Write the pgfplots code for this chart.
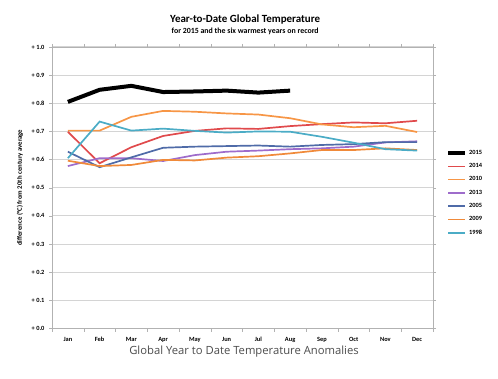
\documentclass[border=0pt]{standalone}
\usepackage{fontspec}
\setmainfont{Carlito}
\newfontfamily\opensans{Open Sans}
\usepackage{pgfplots}
\pgfplotsset{compat=1.18}
\definecolor{cA}{HTML}{E04A4C}
\definecolor{cB}{HTML}{F79646}
\definecolor{cC}{HTML}{9E6CCB}
\definecolor{cD}{HTML}{4F6BA8}
\definecolor{cE}{HTML}{F08A3A}
\definecolor{cF}{HTML}{4BACC6}
\definecolor{gridc}{HTML}{D4D4D4}
\begin{document}
\begin{tikzpicture}
\path[use as bounding box] (0,0) rectangle (498bp,379bp);
\begin{axis}[
  at={(52bp,50.5bp)}, anchor=south west,
  scale only axis, width=381bp, height=281.5bp,
  xmin=-0.5, xmax=11.5, ymin=0, ymax=1,
  xtick={0,...,11},
  xticklabels={Jan,Feb,Mar,Apr,May,Jun,Jul,Aug,Sep,Oct,Nov,Dec},
  minor xtick={-0.5,0.5,...,11.5},
  major x tick style={draw=none},
  minor x tick style={gray!60},
  ytick={0,0.1,...,1.0},
  yticklabels={+ 0.0,+ 0.1,+ 0.2,+ 0.3,+ 0.4,+ 0.5,+ 0.6,+ 0.7,+ 0.8,+ 0.9,+ 1.0},
  tick align=outside,
  major tick length=3bp, minor tick length=3bp,
  y tick style={gray!60},
  ymajorgrids, grid style={gridc, line width=1bp},
  axis line style={gray!60, line width=0.8bp},
  tick label style={font=\bfseries\fontsize{6.4}{7}\selectfont},
  xticklabel style={yshift=-2bp},
  yticklabel style={xshift=-1bp},
  ylabel={difference (°C) from 20th century average},
  ylabel style={at={(axis description cs:-0.084,0.5)}, anchor=center, font=\bfseries\fontsize{6.8}{8}\selectfont},
  xlabel={Global Year to Date Temperature Anomalies},
  xlabel style={at={(axis description cs:0.504,-0.083)}, anchor=center, font=\opensans\fontsize{11.3}{13}\selectfont, text=black!70},
  legend style={at={(1.026,0.648)}, anchor=north west, draw=none, fill=none,
    font=\bfseries\fontsize{6.4}{7}\selectfont, row sep=3.6bp,
    /tikz/every odd column/.append style={column sep=0pt}},
  legend cell align=left,
  legend image code/.code={\draw[#1] (0bp,0bp) -- (17bp,0bp);},
  clip=false,
]
\addplot[black, line width=4bp] coordinates {(0,0.805) (1,0.848) (2,0.862) (3,0.840) (4,0.842) (5,0.845) (6,0.838) (7,0.845)};
\addlegendentry{2015}
\addplot[cA, line width=1.7bp] coordinates {(0,0.699) (1,0.587) (2,0.644) (3,0.684) (4,0.702) (5,0.711) (6,0.709) (7,0.719) (8,0.726) (9,0.732) (10,0.729) (11,0.738)};
\addlegendentry{2014}
\addplot[cB, line width=1.7bp] coordinates {(0,0.703) (1,0.703) (2,0.752) (3,0.773) (4,0.770) (5,0.764) (6,0.760) (7,0.747) (8,0.725) (9,0.715) (10,0.720) (11,0.698)};
\addlegendentry{2010}
\addplot[cC, line width=1.7bp] coordinates {(0,0.577) (1,0.605) (2,0.605) (3,0.595) (4,0.616) (5,0.628) (6,0.632) (7,0.637) (8,0.640) (9,0.646) (10,0.661) (11,0.665)};
\addlegendentry{2013}
\addplot[cD, line width=1.7bp] coordinates {(0,0.628) (1,0.573) (2,0.608) (3,0.642) (4,0.646) (5,0.648) (6,0.650) (7,0.646) (8,0.652) (9,0.655) (10,0.662) (11,0.662)};
\addlegendentry{2005}
\addplot[cE, line width=1.7bp] coordinates {(0,0.596) (1,0.577) (2,0.581) (3,0.599) (4,0.597) (5,0.607) (6,0.612) (7,0.622) (8,0.634) (9,0.634) (10,0.640) (11,0.634)};
\addlegendentry{2009}
\addplot[cF, line width=1.7bp] coordinates {(0,0.605) (1,0.735) (2,0.703) (3,0.710) (4,0.702) (5,0.696) (6,0.700) (7,0.699) (8,0.681) (9,0.660) (10,0.637) (11,0.632)};
\addlegendentry{1998}
\node[font=\bfseries\fontsize{11}{13}\selectfont] at (rel axis cs:0.507,1.099) {Year-to-Date Global Temperature};
\node[font=\bfseries\fontsize{7.9}{9}\selectfont] at (rel axis cs:0.507,1.057) {for 2015 and the six warmest years on record};
\end{axis}
\end{tikzpicture}
\end{document}
